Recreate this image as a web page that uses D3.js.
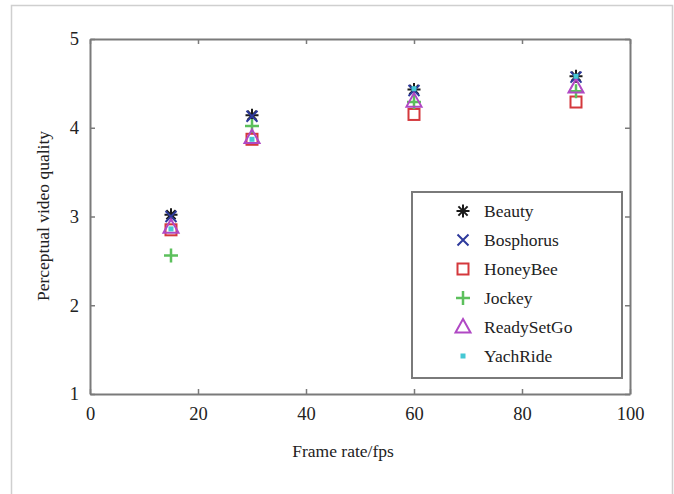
<!DOCTYPE html>
<html>
<head>
<meta charset="utf-8">
<script src="https://cdn.jsdelivr.net/npm/d3@7"></script>
<style>
  html, body { margin: 0; padding: 0; background: #fff; }
  svg { display: block; font-family: "Liberation Serif", "DejaVu Serif", serif; }
</style>
</head>
<body>
<svg id="chart" width="674" height="494"></svg>
<script>
// Frame rates tested (fps)
const frameRates = [15, 30, 60, 90];

// Perceptual video quality per sequence
const beauty      = [3.02, 4.14, 4.43, 4.58];
const bosphorus   = [3.00, 4.13, 4.42, 4.57];
const honeyBee    = [2.85, 3.87, 4.15, 4.29];
const jockey      = [2.56, 4.02, 4.29, 4.41];
const readySetGo  = [2.88, 3.89, 4.30, 4.46];
const yachRide    = [2.86, 3.87, 4.44, 4.58];

const seriesNames = ["Beauty", "Bosphorus", "HoneyBee", "Jockey", "ReadySetGo", "YachRide"];
const seriesValues = [beauty, bosphorus, honeyBee, jockey, readySetGo, yachRide];
const seriesColors = ["#1a1a1a", "#2e3a9c", "#d4383c", "#5cc05c", "#b048c4", "#45c8d4"];
const seriesMarkers = ["asterisk", "cross", "square", "plus", "triangle", "dot"];

const xTicks = [0, 20, 40, 60, 80, 100];
const yTicks = [1, 2, 3, 4, 5];

const svg = d3.select("#chart");
const margin = { left: 90, right: 44, top: 39, bottom: 100 };
const W = 674, H = 494;

const x = d3.scaleLinear().domain([0, 100]).range([margin.left, W - margin.right]);
const y = d3.scaleLinear().domain([1, 5]).range([H - margin.bottom, margin.top]);

// outer frame around the figure
const frame = svg.append("g").attr("stroke", "#cfcfcf").attr("stroke-width", 1.5).attr("fill", "none");
frame.append("path").attr("d", `M11.5,${H} V5.5 H672.5 V${H}`);

const axisColor = "#7a7a7a";
const tickLen = 5;
const fmt = d3.format("d");

// axes with inward ticks on all four sides
const axBottom = svg.append("g").attr("transform", `translate(0,${y(1)})`)
  .call(d3.axisBottom(x).tickValues(xTicks).tickFormat(fmt).tickSizeInner(-tickLen).tickSizeOuter(0).tickPadding(10));
const axTop = svg.append("g").attr("transform", `translate(0,${y(5)})`)
  .call(d3.axisTop(x).tickValues(xTicks).tickSizeInner(-tickLen).tickSizeOuter(0).tickFormat(""));
const axLeft = svg.append("g").attr("transform", `translate(${x(0)},0)`)
  .call(d3.axisLeft(y).tickValues(yTicks).tickFormat(fmt).tickSizeInner(-tickLen).tickSizeOuter(0).tickPadding(11));
const axRight = svg.append("g").attr("transform", `translate(${x(100)},0)`)
  .call(d3.axisRight(y).tickValues(yTicks).tickSizeInner(-tickLen).tickSizeOuter(0).tickFormat(""));

[axBottom, axTop, axLeft, axRight].forEach(g => {
  g.select(".domain").attr("stroke", axisColor).attr("stroke-width", 2);
  g.selectAll(".tick line").attr("stroke", axisColor).attr("stroke-width", 1.5);
  g.selectAll(".tick text").attr("fill", "#222").attr("font-size", 18.5)
    .attr("font-family", "Liberation Serif, serif");
});
axBottom.selectAll(".tick text").attr("dy", "0.85em");

// axis titles
svg.append("text").attr("x", 343).attr("y", 457)
  .attr("text-anchor", "middle").attr("font-size", 17.5).attr("fill", "#222")
  .text("Frame rate/fps");
svg.append("text")
  .attr("transform", `translate(49,216) rotate(-90)`)
  .attr("text-anchor", "middle").attr("font-size", 17.5).attr("fill", "#222")
  .text("Perceptual video quality");

// marker shapes
function drawMarker(g, type, color) {
  const s = 6.5;
  if (type === "asterisk") {
    const p = [];
    for (let k = 0; k < 4; k++) {
      const a = k * Math.PI / 4;
      p.push(`M${-s * Math.cos(a)},${-s * Math.sin(a)}L${s * Math.cos(a)},${s * Math.sin(a)}`);
    }
    g.append("path").attr("d", p.join("")).attr("stroke", color).attr("stroke-width", 2).attr("fill", "none");
  } else if (type === "cross") {
    const c = 5.5;
    g.append("path").attr("d", `M${-c},${-c}L${c},${c}M${-c},${c}L${c},${-c}`)
      .attr("stroke", color).attr("stroke-width", 2).attr("fill", "none");
  } else if (type === "square") {
    g.append("rect").attr("x", -5.5).attr("y", -5.5).attr("width", 11).attr("height", 11)
      .attr("stroke", color).attr("stroke-width", 2).attr("fill", "none");
  } else if (type === "plus") {
    g.append("path").attr("d", `M${-7},0L7,0M0,-7L0,7`)
      .attr("stroke", color).attr("stroke-width", 2.5).attr("fill", "none");
  } else if (type === "triangle") {
    g.append("path").attr("d", "M0,-8L7.5,5.5L-7.5,5.5Z")
      .attr("stroke", color).attr("stroke-width", 2).attr("fill", "none");
  } else if (type === "dot") {
    g.append("rect").attr("x", -2.5).attr("y", -2.5).attr("width", 5).attr("height", 5)
      .attr("fill", color);
  }
}

// data markers
seriesValues.forEach((vals, i) => {
  const g = svg.append("g").attr("class", "series");
  vals.forEach((v, j) => {
    const m = g.append("g").attr("transform", `translate(${x(frameRates[j])},${y(v)})`);
    drawMarker(m, seriesMarkers[i], seriesColors[i]);
  });
});

// legend
const lg = svg.append("g").attr("transform", "translate(412,192)");
lg.append("rect").attr("x", 0).attr("y", 0).attr("width", 210).attr("height", 186)
  .attr("fill", "#fff").attr("stroke", axisColor).attr("stroke-width", 2);
seriesNames.forEach((name, i) => {
  const row = lg.append("g").attr("transform", `translate(51,${19 + i * 29})`);
  drawMarker(row, seriesMarkers[i], seriesColors[i]);
  row.append("text").attr("x", 21).attr("y", 0).attr("dy", "0.35em")
    .attr("font-size", 17.5).attr("fill", "#222").text(name);
});
</script>
</body>
</html>
